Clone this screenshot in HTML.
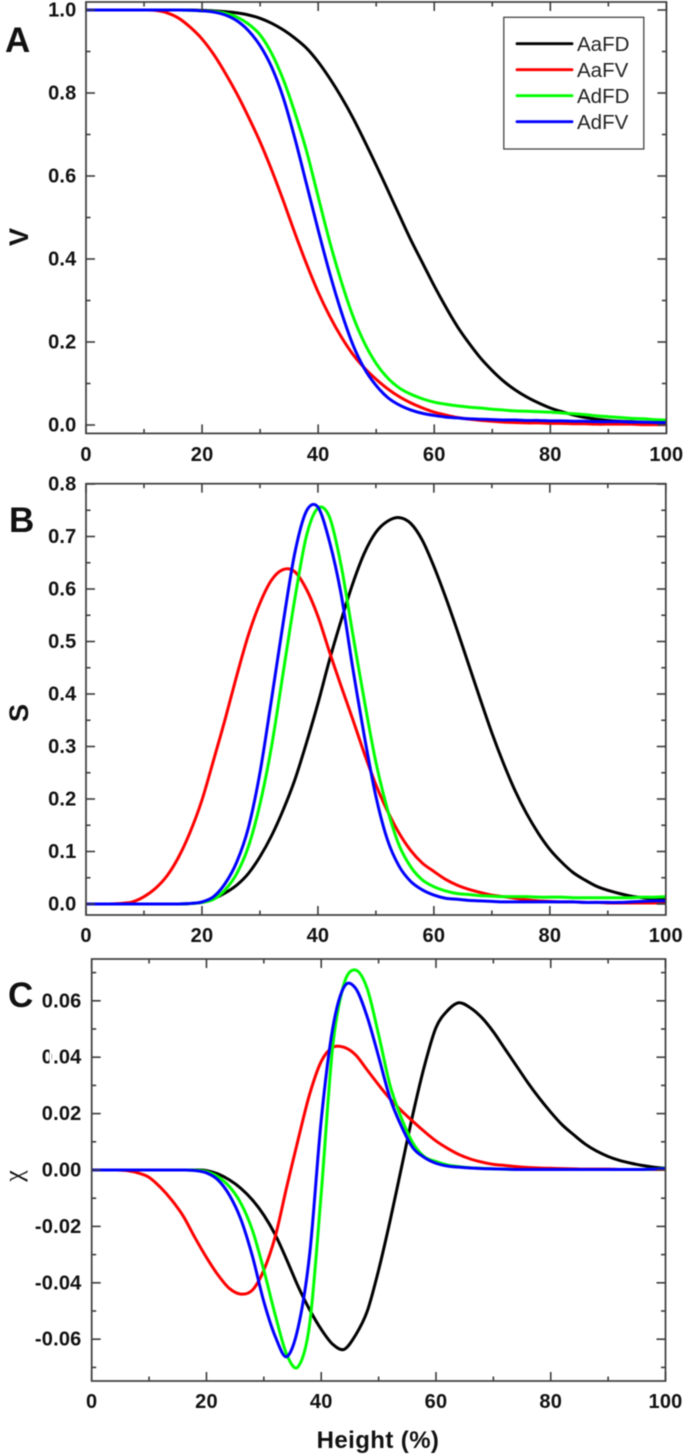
<!DOCTYPE html>
<html lang="en">
<head>
<meta charset="utf-8">
<title>V, S and χ versus height</title>
<style>
html,body{margin:0;padding:0;background:#fff;width:685px;height:1456px;overflow:hidden}
svg{display:block;filter:blur(.45px)}
text{font-family:"Liberation Sans",sans-serif;fill:#111}
.tick{font-weight:bold;font-size:20px;letter-spacing:.2px}
.panel{font-weight:bold;font-size:35px}
.ytitle{font-weight:bold;font-size:27px}
.legend{font-size:20.5px;fill:#222}
</style>
</head>
<body>
<svg id="figure" xmlns="http://www.w3.org/2000/svg" width="685" height="1456" viewBox="0 0 685 1456">
  <rect x="0" y="0" width="685" height="1456" fill="#fff"/>
  <g id="plots"></g>
  <text class="panel" x="5" y="52">A</text>
  <text class="panel" x="9" y="532">B</text>
  <text class="panel" x="8" y="1007">C</text>
  <text class="ytitle" transform="translate(28,237) rotate(-90)" text-anchor="middle">V</text>
  <text class="ytitle" transform="translate(28,713) rotate(-90)" text-anchor="middle">S</text>
  <text transform="translate(22,1176) rotate(-90)" text-anchor="middle" style="font-family:'Liberation Serif','DejaVu Serif',serif;font-size:26px">χ</text>
  <text x="378" y="1448" text-anchor="middle" style="font-weight:bold;font-size:24px;letter-spacing:.4px">Height (%)</text>
  <g id="legend"></g>
</svg>
<script>
const heights = [
  0,2,4,6,8,10,12,14,16,18,
  20,22,24,26,28,30,32,34,36,38,
  40,42,44,46,48,50,52,54,56,58,
  60,62,64,66,68,70,72,74,76,78,
  80,82,84,86,88,90,92,94,96,98,
  100];

const vBlack = [
  1,1,1,1,1,1,1,1,1,1,
  .999,.998,.996,.993,.988,.98,.968,.952,.932,.908,
  .875,.835,.79,.74,.684,.626,.566,.505,.445,.39,
  .335,.284,.237,.197,.161,.131,.105,.084,.067,.053,
  .041,.032,.024,.018,.014,.011,.009,.008,.006,.005,
  .004];
const vRed = [
  1,1,1,1,1,1,.999,.993,.98,.958,
  .93,.893,.848,.798,.742,.682,.614,.54,.462,.388,
  .32,.262,.212,.17,.137,.11,.087,.068,.053,.041,
  .031,.024,.018,.014,.011,.009,.007,.006,.005,.005,
  .004,.004,.003,.003,.002,.002,.002,.002,.001,.001,
  .001];
const vGreen = [
  1,1,1,1,1,1,1,1,1,.9995,
  .998,.996,.992,.983,.966,.94,.895,.832,.752,.66,
  .55,.441,.345,.262,.197,.148,.113,.089,.074,.063,
  .055,.05,.046,.043,.041,.038,.036,.034,.033,.032,
  .031,.029,.027,.025,.022,.02,.018,.016,.015,.013,
  .012];
const vBlue = [
  1,1,1,1,1,1,1,1,1,.9995,
  .998,.995,.988,.974,.95,.914,.862,.788,.69,.58,
  .47,.365,.272,.193,.135,.095,.066,.048,.036,.028,
  .023,.019,.017,.015,.014,.013,.012,.012,.011,.011,
  .01,.01,.009,.009,.008,.008,.008,.007,.007,.006,
  .006];

const sBlack = [
  0,0,0,0,0,0,0,0,0,.001,
  .003,.01,.021,.036,.058,.09,.13,.179,.236,.306,
  .382,.465,.54,.61,.668,.708,.729,.736,.725,.693,
  .643,.585,.522,.456,.39,.326,.268,.216,.172,.135,
  .104,.08,.06,.046,.034,.026,.02,.015,.012,.01,
  .008];
const sRed = [
  0,0,0,.001,.004,.014,.03,.054,.09,.138,
  .198,.274,.352,.435,.512,.573,.617,.637,.633,.6,
  .548,.48,.415,.352,.287,.227,.177,.135,.102,.078,
  .062,.047,.036,.028,.022,.017,.014,.011,.008,.006,
  .005,.004,.004,.003,.003,.002,.002,.002,.002,.002,
  .002];
const sGreen = [
  0,0,0,0,0,0,0,0,0,.001,
  .003,.009,.027,.058,.109,.19,.3,.44,.58,.7,
  .754,.737,.645,.515,.388,.27,.18,.112,.071,.046,
  .033,.025,.02,.018,.016,.015,.014,.014,.014,.013,
  .013,.013,.012,.012,.012,.012,.012,.012,.013,.013,
  .014];
const sBlue = [
  0,0,0,0,0,0,0,0,0,.001,
  .004,.014,.039,.08,.145,.25,.39,.535,.668,.748,
  .756,.69,.59,.45,.32,.205,.122,.072,.043,.027,
  .017,.011,.009,.007,.006,.005,.004,.004,.004,.004,
  .004,.004,.004,.003,.003,.003,.003,.004,.005,.006,
  .006];

const chiBlack = [
  0,0,0,0,0,0,0,0,0,0,
  -.0002,-.0014,-.0035,-.0065,-.0106,-.016,-.023,-.0319,-.0414,-.0496,
  -.0565,-.0618,-.0636,-.0585,-.0502,-.0355,-.018,.001,.02,.037,
  .0505,.0565,.0593,.0575,.054,.049,.043,.037,.031,.0255,
  .0205,.016,.0125,.0092,.0067,.0048,.0034,.0024,.0016,.001,
  .0006];
const chiRed = [
  0,0,0,-.0002,-.001,-.0026,-.0062,-.0108,-.0165,-.024,
  -.031,-.0372,-.042,-.044,-.0426,-.0355,-.0235,-.0059,.011,.027,
  .0385,.0435,.0435,.0408,.0355,.0302,.0252,.021,.0172,.0136,
  .0103,.0077,.0055,.0039,.0028,.002,.0016,.0012,.0009,.0007,
  .0006,.0005,.0004,.0003,.0003,.0003,.0002,.0002,.0002,.0002,
  .0002];
const chiGreen = [
  0,0,0,0,0,0,0,0,0,-.0001,
  -.0006,-.0024,-.0059,-.0118,-.0213,-.0355,-.0515,-.0655,-.0697,-.0544,
  -.0083,.0437,.0662,.0709,.0644,.048,.03,.0183,.0095,.0047,
  .003,.0018,.0012,.0008,.0006,.0004,.0003,.0002,.0002,.0002,
  .0002,.0002,.0002,.0002,.0002,.0002,.0002,.0002,.0002,.0003,
  .0006];
const chiBlue = [
  0,0,0,0,0,0,0,0,0,-.0002,
  -.001,-.0035,-.0089,-.0175,-.0305,-.0467,-.0591,-.0662,-.0556,-.0296,
  .0177,.0502,.065,.0644,.0544,.0402,.0254,.0154,.0078,.0044,
  .0024,.0014,.001,.0007,.0005,.0004,.0003,.0002,.0002,.0002,
  .0002,.0002,.0002,.0002,.0002,.0002,.0002,.0002,.0002,.0003,
  .0005];

const xTickLabels = ["0","20","40","60","80","100"];
const vTickLabels = ["0.0","0.2","0.4","0.6","0.8","1.0"];
const sTickLabels = ["0.0","0.1","0.2","0.3","0.4","0.5","0.6","0.7","0.8"];
const chiTickLabels = ["-0.06","-0.04","-0.02","0.00","0.02","0.04","0.06"];
const seriesNames = ["AaFD","AaFV","AdFD","AdFV"];
const seriesColors = ["#000000","#ff0000","#00ff00","#0000ff"];

const SVG_NS = "http://www.w3.org/2000/svg";
const AXIS_COLOR = "#3c3c3c";

function node(tag, attrs, parent) {
  const el = document.createElementNS(SVG_NS, tag);
  for (const k in attrs) el.setAttribute(k, attrs[k]);
  parent.appendChild(el);
  return el;
}

function smoothPath(pts) {
  let d = "M" + pts[0][0].toFixed(2) + " " + pts[0][1].toFixed(2);
  for (let i = 0; i < pts.length - 1; i++) {
    const p0 = pts[Math.max(i - 1, 0)], p1 = pts[i], p2 = pts[i + 1], p3 = pts[Math.min(i + 2, pts.length - 1)];
    const t = 0.16;
    d += " C" + (p1[0] + (p2[0] - p0[0]) * t).toFixed(2) + " " + (p1[1] + (p2[1] - p0[1]) * t).toFixed(2) +
      " " + (p2[0] - (p3[0] - p1[0]) * t).toFixed(2) + " " + (p2[1] - (p3[1] - p1[1]) * t).toFixed(2) +
      " " + p2[0].toFixed(2) + " " + p2[1].toFixed(2);
  }
  return d;
}

function drawPanel(opt) {
  const g = node("g", {}, document.getElementById("plots"));
  
  

  const xScale = v => opt.left + (v - 0) / 100 * (opt.right - opt.left);
  const yScale = v => opt.y0 - v * opt.yPerUnit;

  const seriesGroup = node("g", {}, g);
  
  
  opt.series.forEach((vals, si) => {
    const pts = heights.map((h, i) => [xScale(h), yScale(vals[i])]);
    const line = node("path", {d: smoothPath(pts), fill: "none", stroke: seriesColors[si], "stroke-width": 3, "stroke-linejoin": "round"}, seriesGroup);
    
    
  });

  const frame = node("rect", {x: opt.left, y: opt.top, width: opt.right - opt.left, height: opt.bottom - opt.top, fill: "none", stroke: AXIS_COLOR, "stroke-width": 1.7}, g);
  
  

  const ticks = node("g", {stroke: AXIS_COLOR, "stroke-width": 1.6}, g);
  
  

  // x ticks every 10, labelled every 20
  for (let k = 0; k <= 10; k++) {
    const x = xScale(k * 10);
    const len = k % 2 === 0 ? 9 : 4.5;
    node("line", {x1: x, x2: x, y1: opt.bottom, y2: opt.bottom - len}, ticks);
    node("line", {x1: x, x2: x, y1: opt.top, y2: opt.top + len}, ticks);
  }
  xTickLabels.forEach(lbl => {
    const t = node("text", {class: "tick", x: xScale(parseFloat(lbl)), y: opt.xLabelY, "text-anchor": "middle"}, g);
    
    
    t.textContent = lbl;
  });

  // y ticks: labelled majors and midpoints between them
  opt.yLabels.forEach((lbl, i) => {
    const v = parseFloat(lbl);
    const y = yScale(v);
    node("line", {x1: opt.left, x2: opt.left + 9, y1: y, y2: y}, ticks);
    node("line", {x1: opt.right, x2: opt.right - 9, y1: y, y2: y}, ticks);
    const t = node("text", {class: "tick", x: opt.labelRight, y: y + 6.5, "text-anchor": "end"}, g);
    
    
    t.textContent = lbl;
  });
  opt.yMinor.forEach(v => {
    const y = yScale(v);
    node("line", {x1: opt.left, x2: opt.left + 4.5, y1: y, y2: y}, ticks);
    node("line", {x1: opt.right, x2: opt.right - 4.5, y1: y, y2: y}, ticks);
  });
}

drawPanel({
  id: "a", left: 86, right: 666.4, top: 2, bottom: 433.4,
  y0: 425, yPerUnit: 415, xLabelY: 461, labelRight: 76.5,
  yLabels: vTickLabels, yMinor: [.1,.3,.5,.7,.9],
  series: [vBlack, vRed, vGreen, vBlue]
});
drawPanel({
  id: "b", left: 86, right: 665.8, top: 483.7, bottom: 915,
  y0: 904, yPerUnit: 525, xLabelY: 942, labelRight: 76.5,
  yLabels: sTickLabels, yMinor: [.05,.15,.25,.35,.45,.55,.65,.75],
  series: [sBlack, sRed, sGreen, sBlue]
});
drawPanel({
  id: "c", left: 91.7, right: 665.5, top: 959, bottom: 1381,
  y0: 1170, yPerUnit: 2820, xLabelY: 1408, labelRight: 81.5,
  yLabels: chiTickLabels, yMinor: [-.07,-.05,-.03,-.01,.01,.03,.05,.07],
  series: [chiBlack, chiRed, chiGreen, chiBlue]
});

// scan artefact that clips the zero of the 0.04 label
const clip = node("rect", {x: 49.5, y: 1049, width: 2.2, height: 15, fill: "#fff"}, document.getElementById("plots"));



// legend
const legendGroup = document.getElementById("legend");
const box = node("rect", {x: 503.8, y: 17.3, width: 140, height: 131.7, fill: "#fff", stroke: "#444", "stroke-width": 1.3}, legendGroup);


seriesNames.forEach((name, i) => {
  const y = 43.7 + i * 26;
  const swatch = node("line", {x1: 517, x2: 572, y1: y, y2: y, stroke: seriesColors[i], "stroke-width": 2.8, "stroke-linecap": "round"}, legendGroup);
  
  
  const label = node("text", {class: "legend", x: 577, y: y + 7.3}, legendGroup);
  
  
  label.textContent = name;
});
</script>
</body>
</html>
